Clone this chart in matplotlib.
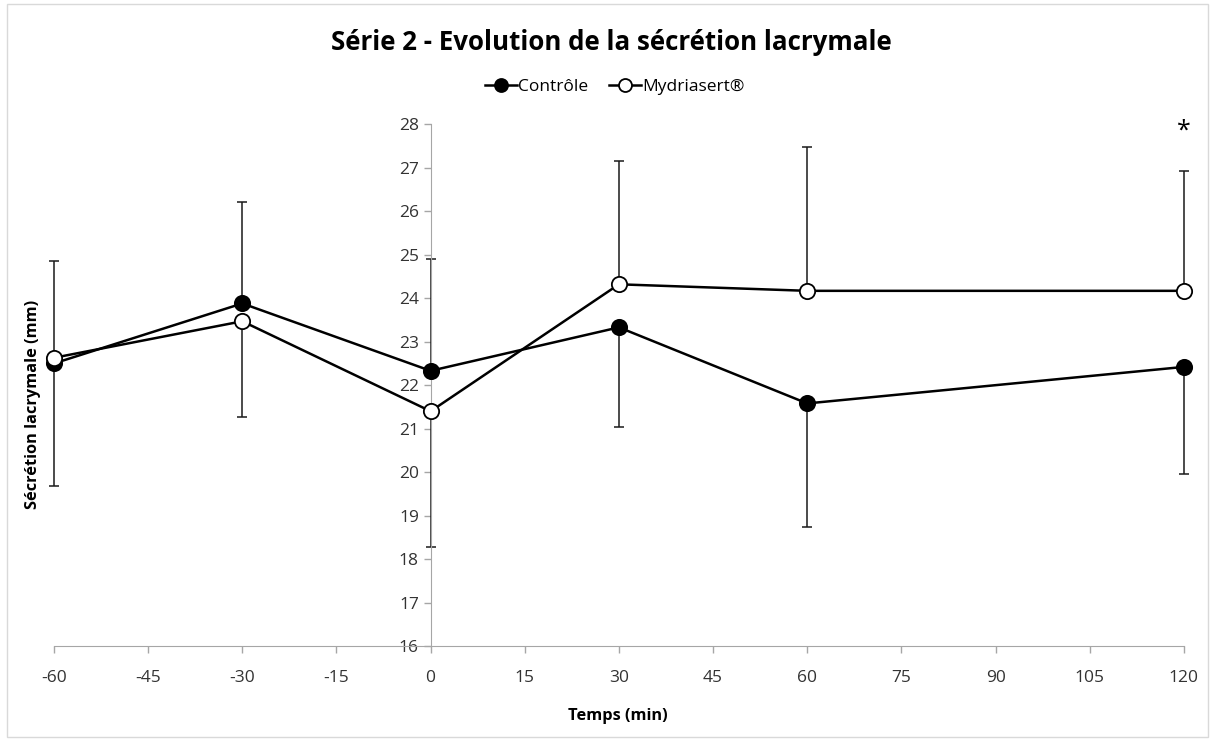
import numpy as np
import matplotlib.pyplot as plt
from matplotlib.patches import Rectangle

plt.rcParams['font.family'] = ['Open Sans', 'DejaVu Sans']
plt.rcParams['axes.unicode_minus'] = False

temps = [-60, -30, 0, 30, 60, 120]
controle = [22.5, 23.88, 22.33, 23.33, 21.58, 22.42]
mydriasert = [22.63, 23.47, 21.4, 24.32, 24.17, 24.17]

# error bars are one-sided: (down, up)
controle_err_down = [2.82, 0, 0, 2.3, 2.85, 2.47]
controle_err_up = [0, 2.33, 2.57, 0, 0, 0]
mydriasert_err_down = [0, 2.2, 3.12, 0, 0, 0]
mydriasert_err_up = [2.22, 0, 0, 2.83, 3.3, 2.75]

x_ticks = list(range(-60, 121, 15))
y_ticks = list(range(16, 29))

fig = plt.figure(figsize=(12.13, 7.4), dpi=100)
ax = fig.add_axes([0.0445, 0.127, 0.9315, 0.705])

grey = '#a6a6a6'

for vals, down, up in [(controle, controle_err_down, controle_err_up),
                       (mydriasert, mydriasert_err_down, mydriasert_err_up)]:
    eb = ax.errorbar(temps, vals, yerr=[down, up], fmt='none', ecolor='#1a1a1a',
                     elinewidth=1.1, capsize=3.5, capthick=1.1, zorder=2)
    for art in eb.lines[1] + eb.lines[2]:
        art.set_clip_on(False)

l1, = ax.plot(temps, controle, color='black', lw=1.8, marker='o', ms=11,
              mfc='black', mec='black', mew=1.3, label='Contrôle', zorder=4)
l2, = ax.plot(temps, mydriasert, color='black', lw=1.8, marker='o', ms=11,
              mfc='white', mec='black', mew=1.3, label='Mydriasert®', zorder=4)
l1.set_clip_on(False)
l2.set_clip_on(False)

ax.set_xlim(-60, 120)
ax.set_ylim(16, 28)
ax.set_xticks(x_ticks)
ax.set_yticks(y_ticks)
ax.tick_params(axis='both', colors=grey, labelcolor='#333333', labelsize=12.5, length=5, width=1)
ax.tick_params(axis='x', pad=12)

ax.spines['left'].set_position(('data', 0))
ax.spines['left'].set_color(grey)
ax.spines['bottom'].set_color(grey)
ax.spines['top'].set_visible(False)
ax.spines['right'].set_visible(False)

ax.text(120, 27.85, '*', ha='center', va='center', fontsize=18)

fig.text(0.027, 0.454, 'Sécrétion lacrymale (mm)', rotation=90, ha='center', va='center',
         fontsize=11.8, fontweight='bold')
fig.text(0.509, 0.032, 'Temps (min)', ha='center', va='center', fontsize=11.8, fontweight='bold')
fig.text(0.504, 0.943, 'Série 2 - Evolution de la sécrétion lacrymale', ha='center', va='center',
         fontsize=18.6, fontweight='bold')

fig.legend(loc='center', bbox_to_anchor=(0.507, 0.882), ncol=2, frameon=False,
           fontsize=12.5, handlelength=1.8, handletextpad=0.1, columnspacing=1.2, markerscale=0.85)

fig.patches.append(Rectangle((0.006, 0.004), 0.99, 0.99, transform=fig.transFigure,
                             fill=False, edgecolor='#d9d9d9', lw=1))

fig.savefig('out.png', dpi=100)
